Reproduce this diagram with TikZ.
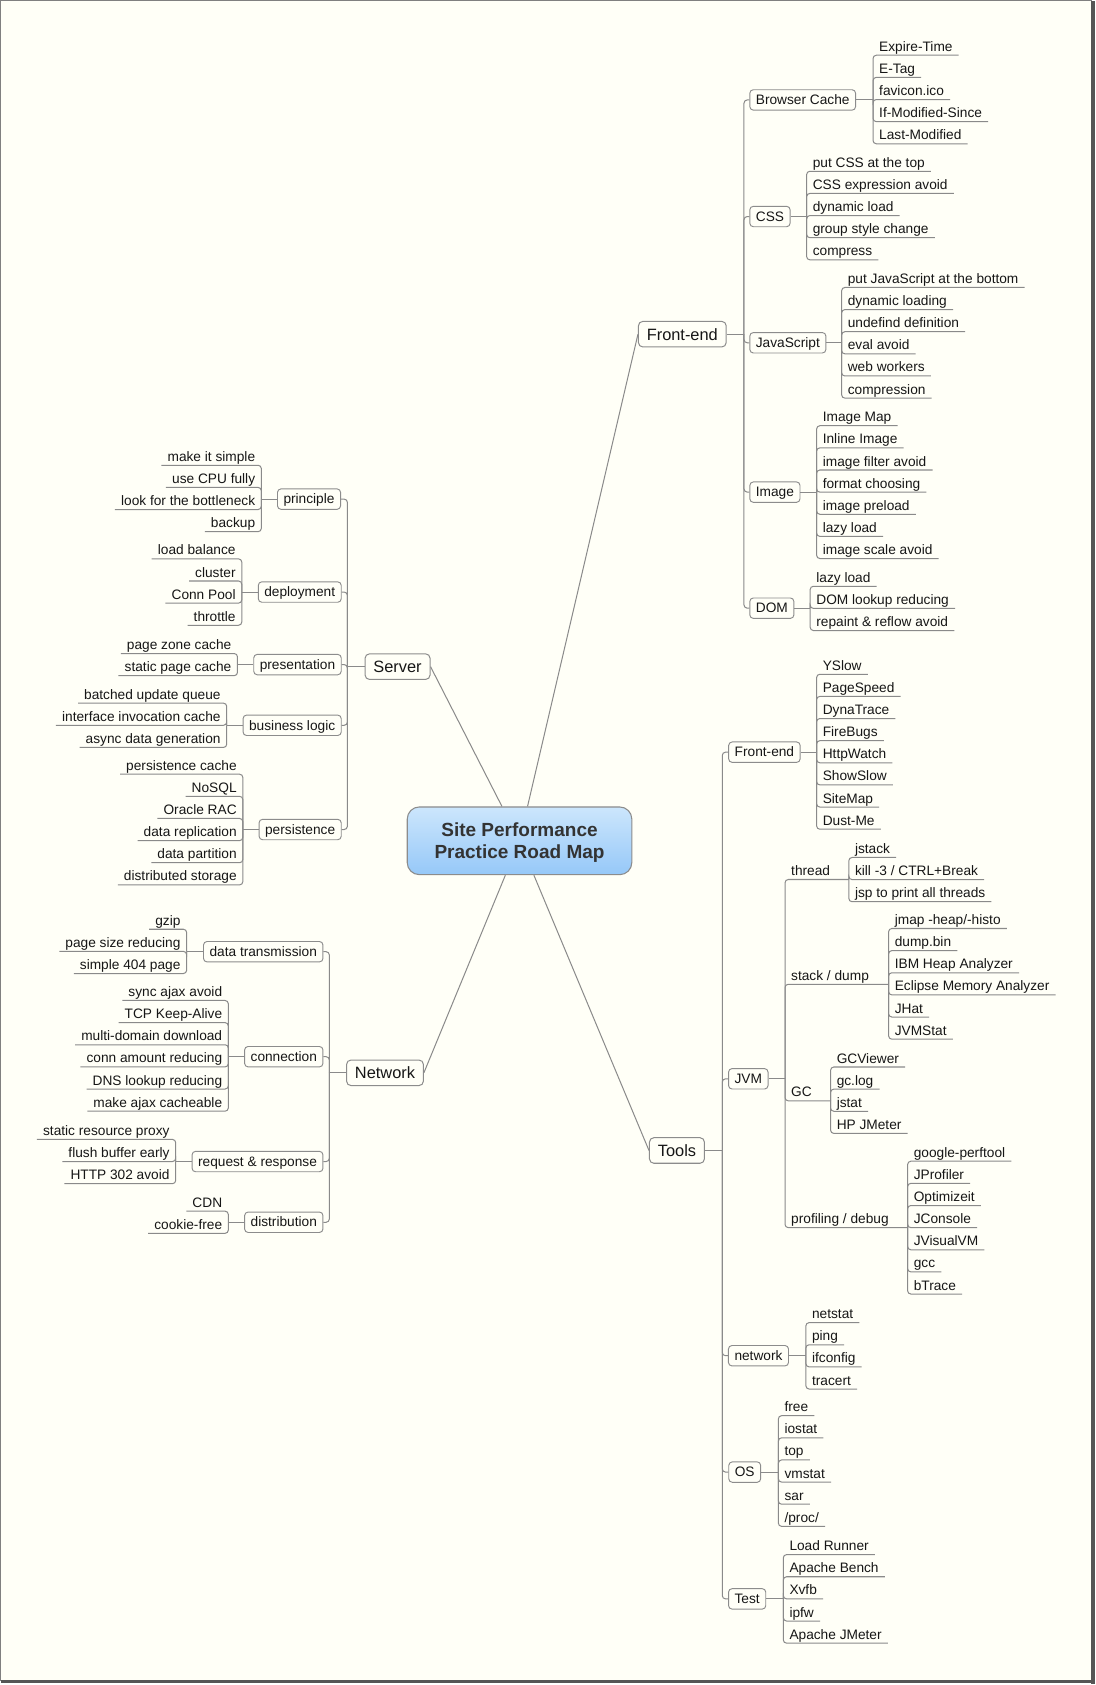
\documentclass[tikz,border=0pt]{standalone}
\usepackage{fontspec}
\setmainfont{Liberation Sans}
\definecolor{bg}{RGB}{255,255,247}
\definecolor{ln}{RGB}{138,138,138}
\definecolor{bd}{RGB}{140,140,140}
\definecolor{tx}{RGB}{22,22,22}
\definecolor{ttl}{RGB}{51,51,51}
\definecolor{blueT}{RGB}{204,230,252}
\definecolor{blueB}{RGB}{150,200,248}
\definecolor{frm}{RGB}{128,128,128}
\definecolor{shd}{RGB}{85,85,85}
\newcounter{lf}
\newcommand\RL[4]{\stepcounter{lf}\pgfmathsetmacro\uy{#3+8}%
  \node[leafR] (lf\arabic{lf}) at (#2,\uy) {#4};%
  \draw[conn] (#1) -- (lf\arabic{lf}.south west) -- (lf\arabic{lf}.south east);}
\newcommand\LL[4]{\stepcounter{lf}\pgfmathsetmacro\uy{#3+8}%
  \node[leafL] (lf\arabic{lf}) at (#2,\uy) {#4};%
  \draw[conn] (#1) -- (lf\arabic{lf}.south east) -- (lf\arabic{lf}.south west);}
\newcommand\SL[6]{\stepcounter{lf}\pgfmathsetmacro\uy{#3+8}%
  \node[leafR] (lf\arabic{lf}) at (#2,\uy) {#4};%
  \coordinate (#5) at (#6,\uy);%
  \draw[conn] (#1) -- (lf\arabic{lf}.south west) -- (#5);}
\begin{document}
\begin{tikzpicture}[x=0.8pt,y=-0.8pt,
  conn/.style={draw=ln,line width=0.75pt,rounded corners=2.4pt},
  leafbase/.style={font=\fontsize{10.2}{12}\selectfont,text=tx,inner xsep=4.4pt,inner ysep=0.57pt,text height=7.6pt,text depth=2.2pt},
  leafR/.style={leafbase,anchor=south west},
  leafL/.style={leafbase,anchor=south east},
  subbox/.style={draw=bd,line width=0.7pt,fill=bg,rounded corners=2.6pt,font=\fontsize{10.2}{12}\selectfont,text=tx,inner xsep=4.5pt,inner ysep=0pt,minimum height=15.2pt,text height=8.5pt,text depth=1.5pt},
  subR/.style={subbox,anchor=west},
  subL/.style={subbox,anchor=east},
  mainbox/.style={draw=bd,line width=0.75pt,fill=bg,rounded corners=3.2pt,font=\fontsize{12.2}{14}\selectfont,text=tx,inner xsep=6.2pt,inner ysep=0pt,minimum height=19pt,text height=10.5pt,text depth=1.8pt},
  rootbox/.style={draw=bd,line width=0.8pt,rounded corners=9pt,top color=blueT,bottom color=blueB,minimum width=167.2pt,minimum height=50.4pt,inner sep=0pt},
  titletext/.style={font=\fontsize{14.15}{16}\bfseries,text=ttl,align=center,inner sep=0pt}
]
% background and frame
\useasboundingbox (0,0) rectangle (1020,1568.16);
\fill[white] (0,0) rectangle (1020,1568.16);
\fill[bg] (0.6,0.6) rectangle (1016,1564.2);
\draw[frm,line width=0.8pt] (1016,0.6) -- (0.6,0.6) -- (0.6,1564.2);
\fill[shd] (1015.3,1) rectangle (1018.6,1567);
\fill[shd] (1,1563.5) rectangle (1018.6,1566.6);

% root
\node[rootbox] (root) at (483.5,782.5) {};
\node[titletext] (title) at (483.5,784.3) {Site Performance\\Practice Road Map};

% ===== Front-end =====
\node[mainbox] (fe) at (635,311) {Front-end};
\coordinate (feJ) at (692.4,311);
\draw[conn] (root) -- (fe.west);
\draw[conn] (fe.east) -- (feJ);

\node[subR] (bc) at (697.4,93) {Browser Cache};
\draw[conn] (feJ) |- (bc.west);
\coordinate (bcJ) at (812.5,93);
\draw[conn] (bc.east) -- (bcJ);
\RL{bcJ}{812.5}{43.4}{Expire-Time}
\RL{bcJ}{812.5}{64}{E-Tag}
\RL{bcJ}{812.5}{84.6}{favicon.ico}
\RL{bcJ}{812.5}{105.2}{If-Modified-Since}
\RL{bcJ}{812.5}{125.8}{Last-Modified}

\node[subR] (css) at (697.4,201.5) {CSS};
\draw[conn] (feJ) |- (css.west);
\coordinate (cssJ) at (750.7,201.5);
\draw[conn] (css.east) -- (cssJ);
\RL{cssJ}{750.7}{151.4}{put CSS at the top}
\RL{cssJ}{750.7}{172}{CSS expression avoid}
\RL{cssJ}{750.7}{192.6}{dynamic load}
\RL{cssJ}{750.7}{213.2}{group style change}
\RL{cssJ}{750.7}{233.8}{compress}

\node[subR] (js) at (697.4,319) {JavaScript};
\draw[conn] (feJ) |- (js.west);
\coordinate (jsJ) at (783.3,319);
\draw[conn] (js.east) -- (jsJ);
\RL{jsJ}{783.3}{259.5}{put JavaScript at the bottom}
\RL{jsJ}{783.3}{280.1}{dynamic loading}
\RL{jsJ}{783.3}{300.7}{undefind definition}
\RL{jsJ}{783.3}{321.3}{eval avoid}
\RL{jsJ}{783.3}{341.9}{web workers}
\RL{jsJ}{783.3}{362.5}{compression}

\node[subR] (img) at (697.4,458) {Image};
\draw[conn] (feJ) |- (img.west);
\coordinate (imgJ) at (760,458);
\draw[conn] (img.east) -- (imgJ);
\RL{imgJ}{760}{388.2}{Image Map}
\RL{imgJ}{760}{408.8}{Inline Image}
\RL{imgJ}{760}{429.4}{image filter avoid}
\RL{imgJ}{760}{450}{format choosing}
\RL{imgJ}{760}{470.6}{image preload}
\RL{imgJ}{760}{491.2}{lazy load}
\RL{imgJ}{760}{511.8}{image scale avoid}

\node[subR] (dom) at (697.4,566) {DOM};
\draw[conn] (feJ) |- (dom.west);
\coordinate (domJ) at (754,566);
\draw[conn] (dom.east) -- (domJ);
\RL{domJ}{754}{537.6}{lazy load}
\RL{domJ}{754}{558.2}{DOM lookup reducing}
\RL{domJ}{754}{578.8}{repaint \& reflow avoid}

% ===== Tools =====
\node[mainbox] (tl) at (630,1070.7) {Tools};
\coordinate (tlJ) at (672.2,1070.7);
\draw[conn] (root) -- (tl.west);
\draw[conn] (tl.east) -- (tlJ);

\node[subR] (tfe) at (677.7,700) {Front-end};
\draw[conn] (tlJ) |- (tfe.west);
\coordinate (tfeJ) at (760,700);
\draw[conn] (tfe.east) -- (tfeJ);
\RL{tfeJ}{760}{619.5}{YSlow}
\RL{tfeJ}{760}{640.1}{PageSpeed}
\RL{tfeJ}{760}{660.7}{DynaTrace}
\RL{tfeJ}{760}{681.3}{FireBugs}
\RL{tfeJ}{760}{701.9}{HttpWatch}
\RL{tfeJ}{760}{722.5}{ShowSlow}
\RL{tfeJ}{760}{743.1}{SiteMap}
\RL{tfeJ}{760}{763.7}{Dust-Me}

\node[subR] (jvm) at (677.6,1004) {JVM};
\draw[conn] (tlJ) |- (jvm.west);
\coordinate (jvmJ) at (730.6,1004);
\draw[conn] (jvm.east) -- (jvmJ);
\SL{jvmJ}{730.6}{810.5}{thread}{thJ}{790}
\RL{thJ}{790}{790}{jstack}
\RL{thJ}{790}{810.6}{kill -3 / CTRL+Break}
\RL{thJ}{790}{831.2}{jsp to print all threads}
\SL{jvmJ}{730.6}{908}{stack / dump}{sdJ}{827}
\RL{sdJ}{827}{856.1}{jmap -heap/-histo}
\RL{sdJ}{827}{876.7}{dump.bin}
\RL{sdJ}{827}{897.3}{IBM Heap Analyzer}
\RL{sdJ}{827}{917.9}{Eclipse Memory Analyzer}
\RL{sdJ}{827}{938.5}{JHat}
\RL{sdJ}{827}{959.1}{JVMStat}
\SL{jvmJ}{730.6}{1016.5}{GC}{gcJ}{773}
\RL{gcJ}{773}{985}{GCViewer}
\RL{gcJ}{773}{1005.6}{gc.log}
\RL{gcJ}{773}{1026.2}{jstat}
\RL{gcJ}{773}{1046.8}{HP JMeter}
\SL{jvmJ}{730.6}{1134.5}{profiling / debug}{pdJ}{844.7}
\RL{pdJ}{844.7}{1072.7}{google-perftool}
\RL{pdJ}{844.7}{1093.3}{JProfiler}
\RL{pdJ}{844.7}{1113.9}{Optimizeit}
\RL{pdJ}{844.7}{1134.5}{JConsole}
\RL{pdJ}{844.7}{1155.1}{JVisualVM}
\RL{pdJ}{844.7}{1175.7}{gcc}
\RL{pdJ}{844.7}{1196.3}{bTrace}

\node[subR] (net) at (677.5,1261.7) {network};
\draw[conn] (tlJ) |- (net.west);
\coordinate (netJ) at (750,1261.7);
\draw[conn] (net.east) -- (netJ);
\RL{netJ}{750}{1222.9}{netstat}
\RL{netJ}{750}{1243.5}{ping}
\RL{netJ}{750}{1264.1}{ifconfig}
\RL{netJ}{750}{1284.7}{tracert}

\node[subR] (os) at (677.8,1370) {OS};
\draw[conn] (tlJ) |- (os.west);
\coordinate (osJ) at (724.4,1370);
\draw[conn] (os.east) -- (osJ);
\RL{osJ}{724.4}{1309.5}{free}
\RL{osJ}{724.4}{1330.1}{iostat}
\RL{osJ}{724.4}{1350.7}{top}
\RL{osJ}{724.4}{1371.3}{vmstat}
\RL{osJ}{724.4}{1391.9}{sar}
\RL{osJ}{724.4}{1412.5}{/proc/}

\node[subR] (tst) at (677.6,1488) {Test};
\draw[conn] (tlJ) |- (tst.west);
\coordinate (tstJ) at (729,1488);
\draw[conn] (tst.east) -- (tstJ);
\RL{tstJ}{729}{1438.8}{Load Runner}
\RL{tstJ}{729}{1459.4}{Apache Bench}
\RL{tstJ}{729}{1480}{Xvfb}
\RL{tstJ}{729}{1500.6}{ipfw}
\RL{tstJ}{729}{1521.2}{Apache JMeter}

% ===== Server =====
\node[mainbox] (srv) at (370,620.4) {Server};
\coordinate (srvJ) at (323.3,620.4);
\draw[conn] (root) -- (srv.east);
\draw[conn] (srv.west) -- (srvJ);

\node[subL] (pri) at (317.4,464.5) {principle};
\draw[conn] (srvJ) |- (pri.east);
\coordinate (priJ) at (243.2,464.5);
\draw[conn] (pri.west) -- (priJ);
\LL{priJ}{243.2}{425}{make it simple}
\LL{priJ}{243.2}{445.6}{use CPU fully}
\LL{priJ}{243.2}{466.2}{look for the bottleneck}
\LL{priJ}{243.2}{486.8}{backup}

\node[subL] (dep) at (318,551) {deployment};
\draw[conn] (srvJ) |- (dep.east);
\coordinate (depJ) at (225,551);
\draw[conn] (dep.west) -- (depJ);
\LL{depJ}{225}{512.1}{load balance}
\LL{depJ}{225}{532.7}{cluster}
\LL{depJ}{225}{553.3}{Conn Pool}
\LL{depJ}{225}{573.9}{throttle}

\node[subL] (pres) at (318,618.5) {presentation};
\draw[conn] (srvJ) |- (pres.east);
\coordinate (presJ) at (221,618.5);
\draw[conn] (pres.west) -- (presJ);
\LL{presJ}{221}{600.2}{page zone cache}
\LL{presJ}{221}{620.8}{static page cache}

\node[subL] (bl) at (318,675) {business logic};
\draw[conn] (srvJ) |- (bl.east);
\coordinate (blJ) at (211,675);
\draw[conn] (bl.west) -- (blJ);
\LL{blJ}{211}{646.4}{batched update queue}
\LL{blJ}{211}{667}{interface invocation cache}
\LL{blJ}{211}{687.6}{async data generation}

\node[subL] (per) at (318,772) {persistence};
\draw[conn] (srvJ) |- (per.east);
\coordinate (perJ) at (226,772);
\draw[conn] (per.west) -- (perJ);
\LL{perJ}{226}{712.5}{persistence cache}
\LL{perJ}{226}{733.1}{NoSQL}
\LL{perJ}{226}{753.7}{Oracle RAC}
\LL{perJ}{226}{774.3}{data replication}
\LL{perJ}{226}{794.9}{data partition}
\LL{perJ}{226}{815.5}{distributed storage}

% ===== Network =====
\node[mainbox] (nw) at (358.3,998.4) {Network};
\coordinate (nwJ) at (306.5,998.4);
\draw[conn] (root) -- (nw.east);
\draw[conn] (nw.west) -- (nwJ);

\node[subL] (dt) at (301,885.7) {data transmission};
\draw[conn] (nwJ) |- (dt.east);
\coordinate (dtJ) at (173.7,885.7);
\draw[conn] (dt.west) -- (dtJ);
\LL{dtJ}{173.7}{856.8}{gzip}
\LL{dtJ}{173.7}{877.4}{page size reducing}
\LL{dtJ}{173.7}{898}{simple 404 page}

\node[subL] (con) at (301,983.4) {connection};
\draw[conn] (nwJ) |- (con.east);
\coordinate (conJ) at (212.5,983.4);
\draw[conn] (con.west) -- (conJ);
\LL{conJ}{212.5}{923.1}{sync ajax avoid}
\LL{conJ}{212.5}{943.7}{TCP Keep-Alive}
\LL{conJ}{212.5}{964.3}{multi-domain download}
\LL{conJ}{212.5}{984.9}{conn amount reducing}
\LL{conJ}{212.5}{1005.5}{DNS lookup reducing}
\LL{conJ}{212.5}{1026.1}{make ajax cacheable}

\node[subL] (rr) at (301,1081) {request \& response};
\draw[conn] (nwJ) |- (rr.east);
\coordinate (rrJ) at (163.5,1081);
\draw[conn] (rr.west) -- (rrJ);
\LL{rrJ}{163.5}{1052.4}{static resource proxy}
\LL{rrJ}{163.5}{1073}{flush buffer early}
\LL{rrJ}{163.5}{1093.6}{HTTP 302 avoid}

\node[subL] (dis) at (301,1137.5) {distribution};
\draw[conn] (nwJ) |- (dis.east);
\coordinate (disJ) at (212.5,1137.5);
\draw[conn] (dis.west) -- (disJ);
\LL{disJ}{212.5}{1119.2}{CDN}
\LL{disJ}{212.5}{1139.8}{cookie-free}
\end{tikzpicture}
\end{document}
